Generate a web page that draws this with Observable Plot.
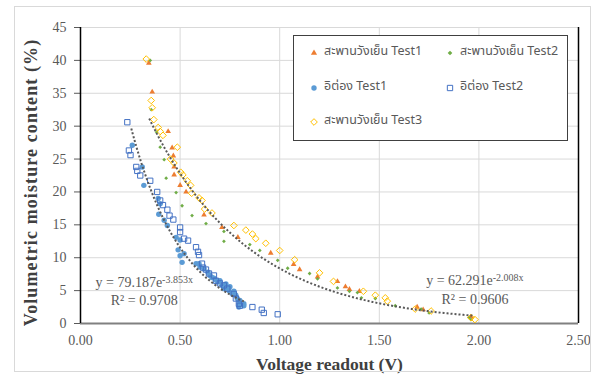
<!DOCTYPE html>
<html><head><meta charset="utf-8">
<script src="https://cdn.jsdelivr.net/npm/d3@7"></script>
<script src="https://cdn.jsdelivr.net/npm/@observablehq/plot@0.6"></script>
<style>
html,body{margin:0;padding:0;background:#fff;}
#wrap{position:relative;width:599px;height:381px;}
#outer{position:absolute;left:14px;top:6px;width:577px;height:366px;border:1px solid #d9d9d9;box-sizing:border-box;pointer-events:none;}
#legend{position:absolute;left:293px;top:35px;width:275px;height:106px;border:1px solid #404040;background:#fff;box-sizing:border-box;
 font-family:"Tahoma","Leelawadee UI","Noto Sans Thai","Noto Sans","DejaVu Sans",sans-serif;font-size:12.5px;color:#595959;}
#legend .it{position:absolute;white-space:nowrap;line-height:16px;}
#legend svg{position:absolute;overflow:visible;}
</style>
</head><body>
<div id="wrap"><div id="outer"></div></div>
<script>
// ---- series names ----
const seriesNames = ["สะพานวังเย็น Test1","สะพานวังเย็น Test2","อิต่อง Test1","อิต่อง Test2","สะพานวังเย็น Test3"];
// ---- data (Voltage V, moisture %) ----
const spT1X = [0.343,0.36,0.44,0.46,0.466,0.47,0.47,0.50,0.53,0.62,0.71,0.79,0.955,1.07,1.10,1.19,1.29,1.33,1.35,1.40,1.69,1.72,1.96];
const spT1Y = [39.6,35.2,29.2,26.7,25.5,23.8,22.6,21.0,20.0,16.5,14.6,13.1,10.7,9.0,8.2,7.1,6.4,5.6,5.2,4.9,2.5,2.1,1.0];
const spT2X = [0.35,0.355,0.382,0.40,0.42,0.43,0.48,0.51,0.56,0.63,0.72,0.72,0.85,0.90,0.99,1.04,1.15,1.19,1.29,1.35,1.39,1.41,1.48,1.58,1.71,1.75,1.95,1.96];
const spT2Y = [40.0,32.5,29.1,26.8,24.9,22.1,19.9,17.9,16.4,15.2,14.0,12.5,12.0,11.1,9.6,8.4,7.6,6.8,5.4,4.9,4.7,3.9,3.8,2.7,2.2,1.6,0.9,0.6];
const itT1X = [0.26,0.31,0.318,0.39,0.40,0.393,0.42,0.436,0.48,0.50,0.49,0.52,0.50,0.51,0.58,0.595,0.60,0.62,0.64,0.65,0.67,0.69,0.73,0.71,0.737,0.72,0.745,0.76,0.78,0.787,0.80,0.795,0.82,0.82,0.795,0.70,0.75,0.77,0.68,0.66];
const itT1Y = [27.1,23.8,21.0,19.0,18.2,16.6,15.7,14.9,13.1,12.7,11.2,10.6,10.3,9.3,9.1,9.1,8.6,8.3,7.8,7.3,6.9,6.3,6.0,5.8,5.4,5.3,5.0,4.6,4.3,3.8,3.5,3.0,3.0,2.7,2.5,6.5,5.6,4.9,6.6,7.0];
const itT2X = [0.235,0.243,0.251,0.28,0.285,0.30,0.35,0.385,0.40,0.414,0.436,0.447,0.466,0.50,0.50,0.52,0.54,0.58,0.59,0.595,0.61,0.615,0.63,0.645,0.67,0.68,0.70,0.72,0.737,0.77,0.78,0.795,0.80,0.863,0.91,0.92,0.99];
const itT2Y = [30.6,26.3,25.6,23.8,23.2,22.5,21.7,20.0,18.7,18.0,17.3,16.4,15.8,14.6,13.9,12.9,12.6,11.6,10.9,10.4,9.1,8.5,8.2,7.6,7.3,6.5,6.1,5.8,5.3,4.5,3.8,3.0,2.7,2.5,2.1,1.6,1.4];
const spT3X = [0.33,0.355,0.36,0.368,0.39,0.40,0.414,0.486,0.452,0.469,0.503,0.514,0.536,0.553,0.558,0.595,0.61,0.623,0.66,0.77,0.83,0.863,0.88,0.93,1.0,1.075,1.20,1.27,1.42,1.48,1.53,1.54,1.68,1.76,1.96,1.98];
const spT3Y = [40.2,33.9,32.8,31.0,29.8,29.2,28.6,26.8,25.0,24.4,23.0,22.6,21.7,21.0,19.8,19.1,18.7,17.4,16.8,14.9,14.2,13.6,12.9,12.2,11.1,9.7,7.7,6.4,4.9,4.3,3.9,3.4,2.2,1.9,0.9,0.6];
// ---- exponential trendlines (from the chart's equations) ----
const fitA = [79.187, 62.291];
const fitB = [-3.853, -2.008];
const fitMin = [0.255, 0.345];
const fitMax = [0.82, 1.97];
const eqLabels = ["y = 79.187e^-3.853x", "y = 62.291e^-2.008x"];
const r2Labels = ["R² = 0.9708", "R² = 0.9606"];
// ---- ticks ----
const xTicks = [0, 0.5, 1, 1.5, 2, 2.5];
const yTicks = [0, 5, 10, 15, 20, 25, 30, 35, 40, 45];

const zip = (xs, ys) => xs.map((x, i) => ({x, y: ys[i]}));
const trend = fitA.flatMap((a, k) => d3.range(0, 101).map(i => {
  const x = fitMin[k] + (fitMax[k] - fitMin[k]) * i / 100;
  return {k, x, y: a * Math.exp(fitB[k] * x)};
}));

const styles = [
  {symbol: "triangle", fill: "#ED7D31", stroke: "none", r: 2.1},
  {symbol: "diamond2", fill: "#70AD47", stroke: "none", r: 1.7},
  {symbol: "circle", fill: "#5B9BD5", stroke: "none", r: 2.7},
  {symbol: "square", fill: "none", stroke: "#4472C4", r: 3.0},
  {symbol: "diamond2", fill: "none", stroke: "#FFC000", r: 3.0}
];
const seriesData = [zip(spT1X, spT1Y), zip(spT2X, spT2Y), zip(itT1X, itT1Y), zip(itT2X, itT2Y), zip(spT3X, spT3Y)];

const serif = "'Liberation Serif','Times New Roman',serif";
const chart = Plot.plot({
  width: 599, height: 381,
  marginLeft: 80, marginRight: 21, marginTop: 27, marginBottom: 58,
  style: {fontFamily: serif, fontSize: "14px", color: "#595959", background: "transparent", overflow: "visible"},
  x: {domain: [0, 2.5], ticks: xTicks, tickFormat: d => d.toFixed(2), tickSize: 0, tickPadding: 12, label: null},
  y: {domain: [0, 45], ticks: yTicks, tickSize: 6, tickPadding: 8, label: null},
  marks: [
    Plot.ruleX(xTicks, {stroke: "#d9d9d9", strokeWidth: 1}),
    Plot.ruleY(yTicks, {stroke: "#d9d9d9", strokeWidth: 1}),
    Plot.ruleY([0], {stroke: "#808080", strokeWidth: 2.2}),
    Plot.ruleX([0], {stroke: "#000", strokeWidth: 1.5}),
    Plot.ruleX([2.5], {stroke: "#000", strokeWidth: 1.5}),
    ...seriesData.map((d, i) => Plot.dot(d, {x: "x", y: "y", symbol: () => styles[i].symbol,
      r: styles[i].r, fill: styles[i].fill, stroke: styles[i].stroke, strokeWidth: 1})),
    Plot.line(trend, {x: "x", y: "y", z: "k", stroke: "#595959", strokeWidth: 2, strokeDasharray: "2,2", strokeLinecap: "butt", curve: "linear"}),
    Plot.text(eqLabels, {x: [0.32, 1.98], y: [6.16, 6.46], text: d => d, fontSize: 14, fill: "#595959", textAnchor: "middle"}),
    Plot.text(r2Labels, {x: [0.32, 1.98], y: [3.42, 3.72], text: d => d, fontSize: 14, fill: "#595959", textAnchor: "middle"}),
    Plot.text(["Voltage readout (V)"], {frameAnchor: "bottom", dy: 46, fontSize: 17.5, fontWeight: "bold", fill: "#404040"}),
    Plot.text(["Volumetric moisture content (%)"], {frameAnchor: "left", textAnchor: "middle", dx: -49, dy: 7, rotate: -90, fontSize: 18, fontWeight: "bold", fill: "#404040"})
  ]
});
chart.style.position = "absolute"; chart.style.left = "0"; chart.style.top = "0";
// superscripts for exponents, letter spacing for the y title
const ns = "http://www.w3.org/2000/svg";
chart.querySelectorAll("text").forEach(t => {
  if (t.textContent.includes("^") && t.children.length === 0) {
    const [a, b] = t.textContent.split("^");
    t.textContent = a;
    const ts = document.createElementNS(ns, "tspan");
    ts.setAttribute("dy", "-0.45em");
    ts.setAttribute("font-size", "10px");
    ts.textContent = b;
    t.appendChild(ts);
  }
  if (t.textContent.startsWith("Volumetric")) t.setAttribute("letter-spacing", "1.1");
});
const wrap = document.getElementById("wrap");
wrap.insertBefore(chart, wrap.firstChild);

// legend
const legend = document.createElement("div");
legend.id = "legend";
const pos = [[20, 17], [156, 17], [20, 52], [156, 52], [20, 86]];
const legR = [2.3, 2.1, 2.7, 3.0, 3.0];
seriesNames.forEach((name, i) => {
  const [cx, cy] = pos[i];
  const s = styles[i];
  const sv = d3.create("svg").attr("width", 10).attr("height", 10)
    .style("left", (cx - 5) + "px").style("top", (cy - 5) + "px");
  const symMap = {triangle: d3.symbolTriangle, diamond2: d3.symbolDiamond2, circle: d3.symbolCircle, square: d3.symbolSquare};
  sv.append("path").attr("transform", "translate(5,5)")
    .attr("d", d3.symbol(symMap[s.symbol], Math.PI * legR[i] * legR[i])())
    .attr("fill", s.fill).attr("stroke", s.stroke).attr("stroke-width", 1);
  legend.appendChild(sv.node());
  const it = document.createElement("div");
  it.className = "it";
  it.style.left = (cx + 10) + "px";
  it.style.top = (cy - 9) + "px";
  it.textContent = name;
  legend.appendChild(it);
});
wrap.appendChild(legend);
</script>
</body></html>
